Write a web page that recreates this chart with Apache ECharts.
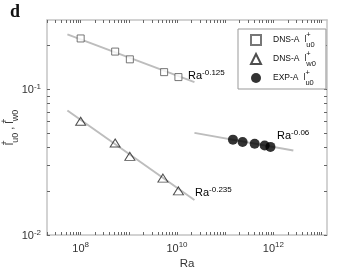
<!DOCTYPE html>
<html>
<head>
<meta charset="utf-8">
<script src="https://cdn.jsdelivr.net/npm/echarts@6/dist/echarts.min.js"></script>
<style>
  html, body { margin: 0; padding: 0; background: #fff; }
  #main { width: 360px; height: 271px; }
</style>
</head>
<body>
<div id="main"></div>
<script>
// data
const raU0 = [1e8, 5.2e8, 1.05e9, 5.4e9, 1.07e10];
const lU0 = [0.224, 0.182, 0.161, 0.1315, 0.1216];
const raW0 = [1e8, 5.2e8, 1.05e9, 5.1e9, 1.07e10];
const lW0 = [0.0604, 0.0429, 0.0347, 0.0246, 0.0201];
const raExp = [1.45e11, 2.3e11, 4.1e11, 6.6e11, 8.7e11];
const lExp = [0.0452, 0.0435, 0.0423, 0.0412, 0.0403];
// power-law fit lines (end points)
const fitRaDns = [5.3e7, 2.3e10];
const fitU0 = [0.239, 0.1122];
const fitW0 = [0.0717, 0.0174];
const fitRaExp = [2.3e10, 2.6e12];
const fitExp = [0.0503, 0.0381];
// tick labels (exponents)
const xLabelExp = [8, 10, 12];
const yLabelExp = [-2, -1];

const pair = (xs, ys) => xs.map((x, i) => [x, ys[i]]);

const chart = echarts.init(document.getElementById('main'));

const FONT = 'Liberation Sans, Arial, sans-serif';
const supRich = {
  b: { fontSize: 11, fontFamily: FONT, color: '#333', lineHeight: 13, verticalAlign: 'bottom' },
  sup: { fontSize: 8, fontFamily: FONT, color: '#333', lineHeight: 8, verticalAlign: 'top' }
};

function minorTicks(lo, hi) {
  const out = [];
  for (let e = lo; e <= hi; e++) {
    for (let m = 1; m <= 9; m++) out.push(m * Math.pow(10, e));
  }
  return out;
}
const xTicks = minorTicks(7, 13);
const yTicks = minorTicks(-2, -1);

function isLabel(v, exps) {
  const e = Math.round(Math.log10(v));
  return Math.abs(Math.log10(v) - e) < 1e-6 && exps.indexOf(e) >= 0;
}

const boxLine = { show: true, lineStyle: { color: '#c4c4c4', width: 1.5 } };
const tickStyle = (vals) => ({ show: true, inside: true, length: 3, customValues: vals, lineStyle: { color: '#666', width: 1 } });

const lRich = {
  t: { fontSize: 8.5, fontFamily: FONT, color: '#111', lineHeight: 18, verticalAlign: 'middle' },
  g: { width: 5, lineHeight: 18 },
  p: { fontSize: 7.5, fontFamily: FONT, color: '#111', lineHeight: 8, verticalAlign: 'top', width: 0 },
  s: { fontSize: 7.5, fontFamily: FONT, color: '#111', lineHeight: 8, verticalAlign: 'bottom' }
};
const legendText = {
  'DNS-A u0': '{t|DNS-A}{g|}{t|l}{p|+}{s|u0}',
  'DNS-A w0': '{t|DNS-A}{g|}{t|l}{p|+}{s|w0}',
  'EXP-A u0': '{t|EXP-A}{g|}{t|l}{p|+}{s|u0}'
};

const option = {
  animation: false,
  grid: { left: 47, right: 33, top: 20, bottom: 36, outerBoundsMode: 'none' },
  xAxis: [{
    type: 'log', logBase: 10, min: 2e7, max: 1.3e13,
    name: 'Ra', nameLocation: 'middle', nameGap: 23, nameMoveOverlap: false,
    nameTextStyle: { fontSize: 11.5, fontFamily: FONT, color: '#333' },
    axisLine: boxLine,
    axisTick: tickStyle(xTicks),
    axisLabel: {
      customValues: xLabelExp.map(e => Math.pow(10, e)),
      margin: 6,
      formatter: v => isLabel(v, xLabelExp) ? '{b|10}{sup|' + Math.round(Math.log10(v)) + '}' : '',
      rich: supRich
    },
    splitLine: { show: false }
  }, {
    type: 'log', logBase: 10, min: 2e7, max: 1.3e13, position: 'top',
    axisLine: boxLine, axisTick: tickStyle(xTicks),
    axisLabel: { show: false }, splitLine: { show: false }
  }],
  yAxis: [{
    type: 'log', logBase: 10, min: 0.01, max: 0.3,
    name: '{t|l}{p|+}{s|u0}{t| , l}{p|+}{s|w0}', nameLocation: 'middle', nameGap: 27, nameRotate: 90,
    nameMoveOverlap: false,
    nameTextStyle: { rich: {
      t: { fontSize: 11, fontFamily: FONT, color: '#333', lineHeight: 20, verticalAlign: 'middle' },
      p: { fontSize: 9, fontFamily: FONT, color: '#333', lineHeight: 9, verticalAlign: 'top', width: 0 },
      s: { fontSize: 9, fontFamily: FONT, color: '#333', lineHeight: 9, verticalAlign: 'bottom' }
    } },
    axisLine: boxLine,
    axisTick: tickStyle(yTicks),
    axisLabel: {
      customValues: yLabelExp.map(e => Math.pow(10, e)),
      margin: 6,
      formatter: v => isLabel(v, yLabelExp) ? '{b|10}{sup|' + Math.round(Math.log10(v)) + '}' : '',
      rich: supRich
    },
    splitLine: { show: false }
  }, {
    type: 'log', logBase: 10, min: 0.01, max: 0.3, position: 'right',
    axisLine: boxLine, axisTick: tickStyle(yTicks),
    axisLabel: { show: false }, splitLine: { show: false }
  }],
  legend: {
    orient: 'vertical', left: 238, top: 29,
    padding: [2, 10, 2, 12], itemGap: 1, itemWidth: 10, itemHeight: 10,
    borderColor: '#999', borderWidth: 1, backgroundColor: '#fff',
    selectedMode: false,
    data: ['DNS-A u0', 'DNS-A w0', 'EXP-A u0'],
    formatter: name => legendText[name],
    textStyle: { rich: lRich, padding: [0, 0, 0, 7] }
  },
  series: [
    { type: 'line', silent: true, symbol: 'none', data: pair(fitRaDns, fitU0), lineStyle: { color: '#bdbdbd', width: 2 }, z: 1 },
    { type: 'line', silent: true, symbol: 'none', data: pair(fitRaDns, fitW0), lineStyle: { color: '#bdbdbd', width: 2 }, z: 1 },
    { type: 'line', silent: true, symbol: 'none', data: pair(fitRaExp, fitExp), lineStyle: { color: '#bdbdbd', width: 2 }, z: 1 },
    { name: 'DNS-A u0', type: 'scatter', symbol: 'rect', symbolSize: 7, data: pair(raU0, lU0),
      itemStyle: { color: '#fff', borderColor: '#555', borderWidth: 1 }, z: 3 },
    { name: 'DNS-A w0', type: 'scatter', symbol: 'triangle', symbolSize: [10, 8], data: pair(raW0, lW0),
      itemStyle: { color: 'rgba(255,255,255,0)', borderColor: '#222', borderWidth: 1 }, z: 3 },
    { name: 'EXP-A u0', type: 'scatter', symbol: 'circle', symbolSize: 10, data: pair(raExp, lExp),
      itemStyle: { color: '#000' }, z: 3 }
  ],
  graphic: [
    { type: 'text', left: 10, top: 3, style: { text: 'd', font: 'bold 18px Liberation Serif, serif', fill: '#111' } },
    { type: 'text', x: 188, y: 75, style: { text: '{b|Ra}{sup|-0.125}', rich: supRich, verticalAlign: 'middle' } },
    { type: 'text', x: 195, y: 192, style: { text: '{b|Ra}{sup|-0.235}', rich: supRich, verticalAlign: 'middle' } },
    { type: 'text', x: 277, y: 135, style: { text: '{b|Ra}{sup|-0.06}', rich: supRich, verticalAlign: 'middle' } }
  ]
};

chart.setOption(option);
</script>
</body>
</html>
